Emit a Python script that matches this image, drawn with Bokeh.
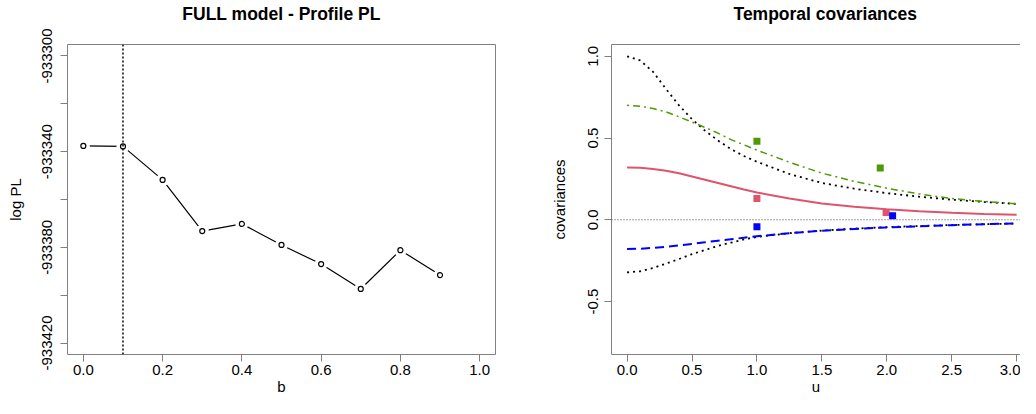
from bokeh.plotting import figure
from bokeh.layouts import row
from bokeh.models import Range1d, FixedTicker, NumeralTickFormatter, Span, LinearAxis
from bokeh.embed import file_html
from bokeh.resources import INLINE

# ---------------- data ----------------
# Left panel: profile pseudo-likelihood
b_vals = [0.0, 0.1, 0.2, 0.3, 0.4, 0.5, 0.6, 0.7, 0.8, 0.9]
log_pl = [-933337.6, -933337.8, -933351.8, -933373.2, -933370.2,
          -933379.0, -933387.0, -933397.4, -933381.2, -933391.6]
b_best = 0.1
left_xticks = [0.0, 0.2, 0.4, 0.6, 0.8, 1.0]
left_yticks = [-933420, -933400, -933380, -933360, -933340, -933320, -933300]
left_yticks_unlabeled = [-933400, -933360, -933320]

# Right panel: temporal covariances
u_grid = [0.0, 0.1, 0.2, 0.3, 0.4, 0.5, 0.6, 0.7, 0.8, 0.9, 1.0,
          1.25, 1.5, 1.75, 2.0, 2.25, 2.5, 2.75, 3.0]
upper_bound = [1.0, 0.975, 0.905, 0.80, 0.70, 0.615, 0.545, 0.485, 0.432, 0.39, 0.355,
               0.28, 0.225, 0.19, 0.163, 0.141, 0.123, 0.109, 0.097]
lower_bound = [-0.322, -0.315, -0.295, -0.268, -0.24, -0.21, -0.185, -0.16, -0.14, -0.12, -0.105,
               -0.082, -0.066, -0.054, -0.045, -0.038, -0.032, -0.027, -0.023]
cov_green = [0.70, 0.695, 0.68, 0.66, 0.63, 0.598, 0.565, 0.53, 0.49, 0.458, 0.426,
             0.352, 0.285, 0.235, 0.193, 0.158, 0.13, 0.112, 0.098]
cov_red = [0.32, 0.318, 0.31, 0.30, 0.285, 0.265, 0.245, 0.225, 0.205, 0.185, 0.167,
           0.13, 0.10, 0.08, 0.064, 0.052, 0.043, 0.036, 0.030]
cov_blue = [-0.178, -0.177, -0.172, -0.165, -0.157, -0.148, -0.138, -0.128, -0.119, -0.11, -0.101,
            -0.082, -0.067, -0.056, -0.047, -0.040, -0.033, -0.027, -0.022]
emp_green_u = [1.0, 1.95]
emp_green_v = [0.481, 0.316]
emp_red_u = [1.0, 1.995]
emp_red_v = [0.130, 0.044]
emp_blue_u = [1.0, 2.045]
emp_blue_v = [-0.043, 0.024]
right_xticks = [0.0, 0.5, 1.0, 1.5, 2.0, 2.5, 3.0]
right_yticks = [-0.5, 0.0, 0.5, 1.0]

# ---------------- styling ----------------
FONT = "Liberation Sans"
GRAY = "#808080"
GREEN = "#4E9A06"
RED = "#DF536B"
BLUE = "#0000FF"


def style_axis(ax, line=False):
    ax.axis_line_color = GRAY if line else None
    ax.axis_line_width = 1
    ax.major_tick_line_color = GRAY
    ax.major_tick_out = 7
    ax.major_tick_in = 0
    ax.minor_tick_line_color = None
    ax.major_label_text_font = FONT
    ax.major_label_text_font_size = "15px"
    ax.major_label_text_color = "#000000"
    ax.axis_label_text_font = FONT
    ax.axis_label_text_font_size = "15px"
    ax.axis_label_text_font_style = "normal"
    ax.axis_label_text_color = "#000000"


def style_title(p, text, align, offset=0):
    # second (blank) line lifts the title text away from the frame, as in R
    p.title.text = text + "\n "
    p.title.align = align
    p.title.offset = offset
    p.title.text_font = FONT
    p.title.text_font_size = "17.5px"
    p.title.text_font_style = "bold"
    p.title.text_color = "#000000"
    p.title.text_line_height = 1.0
    p.title.standoff = 2


# ---------------- left panel ----------------
p1 = figure(width=518, height=398, x_range=Range1d(-0.04, 1.04),
            y_range=Range1d(-933424.8, -933295.2),
            output_backend="svg", toolbar_location=None,
            min_border_left=67, min_border_right=23, min_border_top=43, min_border_bottom=44)
p1.grid.visible = False
p1.outline_line_color = GRAY
p1.outline_line_width = 1
p1.background_fill_color = "white"
p1.border_fill_color = "white"
style_title(p1, "FULL model - Profile PL", "center")

style_axis(p1.xaxis[0])
p1.xaxis[0].ticker = FixedTicker(ticks=left_xticks)
p1.xaxis[0].formatter = NumeralTickFormatter(format="0.0")
p1.xaxis[0].axis_label = "b"
p1.xaxis[0].major_label_standoff = 3
p1.xaxis[0].axis_label_standoff = 0

style_axis(p1.yaxis[0])
p1.yaxis[0].ticker = FixedTicker(ticks=left_yticks)
p1.yaxis[0].formatter = NumeralTickFormatter(format="0")
p1.yaxis[0].major_label_overrides = {t: "" for t in left_yticks_unlabeled}
p1.yaxis[0].major_label_orientation = "vertical"
p1.yaxis[0].axis_label = "log PL"
p1.yaxis[0].major_label_standoff = 8
p1.yaxis[0].axis_label_standoff = 16

p1.line(b_vals, log_pl, line_color="black", line_width=1.2)
p1.scatter(b_vals, log_pl, marker="circle", size=13, fill_color="white", line_color=None)
p1.scatter(b_vals, log_pl, marker="circle", size=5, fill_color="white",
           line_color="black", line_width=1.2)
p1.add_layout(Span(location=b_best, dimension="height", line_color="black",
                   line_width=1.5, line_dash="2 2"))

# ---------------- right panel ----------------
p2 = figure(width=502, height=398, x_range=Range1d(-0.12, 3.03),
            y_range=Range1d(-0.824, 1.072),
            output_backend="svg", toolbar_location=None,
            min_border_left=93, min_border_right=0, min_border_top=43, min_border_bottom=44)
p2.grid.visible = False
p2.outline_line_color = None
p2.background_fill_color = "white"
p2.border_fill_color = "white"
style_title(p2, "Temporal covariances", "left", offset=122)

style_axis(p2.xaxis[0], line=True)
p2.xaxis[0].ticker = FixedTicker(ticks=right_xticks)
p2.xaxis[0].formatter = NumeralTickFormatter(format="0.0")
p2.xaxis[0].axis_label = "u"
p2.xaxis[0].major_label_standoff = 3
p2.xaxis[0].axis_label_standoff = 0

style_axis(p2.yaxis[0], line=True)
p2.yaxis[0].ticker = FixedTicker(ticks=right_yticks)
p2.yaxis[0].formatter = NumeralTickFormatter(format="0.0")
p2.yaxis[0].major_label_orientation = "vertical"
p2.yaxis[0].axis_label = "covariances"
p2.yaxis[0].major_label_standoff = 6
p2.yaxis[0].axis_label_standoff = 18

top_axis = LinearAxis(ticker=FixedTicker(ticks=[]), axis_line_color=GRAY, axis_line_width=1,
                      major_tick_line_color=None, minor_tick_line_color=None,
                      major_tick_out=0, major_label_text_font_size="0px", major_label_standoff=0)
p2.add_layout(top_axis, "above")

p2.add_layout(Span(location=0.0, dimension="width", line_color="#444444",
                   line_width=1, line_dash="1 2"))
p2.line(u_grid, upper_bound, line_color="black", line_width=1.8, line_dash="2 4")
p2.line(u_grid, lower_bound, line_color="black", line_width=1.8, line_dash="2 4")
p2.line(u_grid, cov_green, line_color=GREEN, line_width=1.5, line_dash="2 4 7 4")
p2.line(u_grid, cov_red, line_color=RED, line_width=2)
p2.line(u_grid, cov_blue, line_color=BLUE, line_width=2, line_dash="9 5")
p2.scatter(emp_green_u, emp_green_v, marker="square", size=7, fill_color=GREEN, line_color=None)
p2.scatter(emp_red_u, emp_red_v, marker="square", size=7, fill_color=RED, line_color=None)
p2.scatter(emp_blue_u, emp_blue_v, marker="square", size=7, fill_color=BLUE, line_color=None)

layout = row(p1, p2)
open("out.html", "w").write(file_html(layout, INLINE))
